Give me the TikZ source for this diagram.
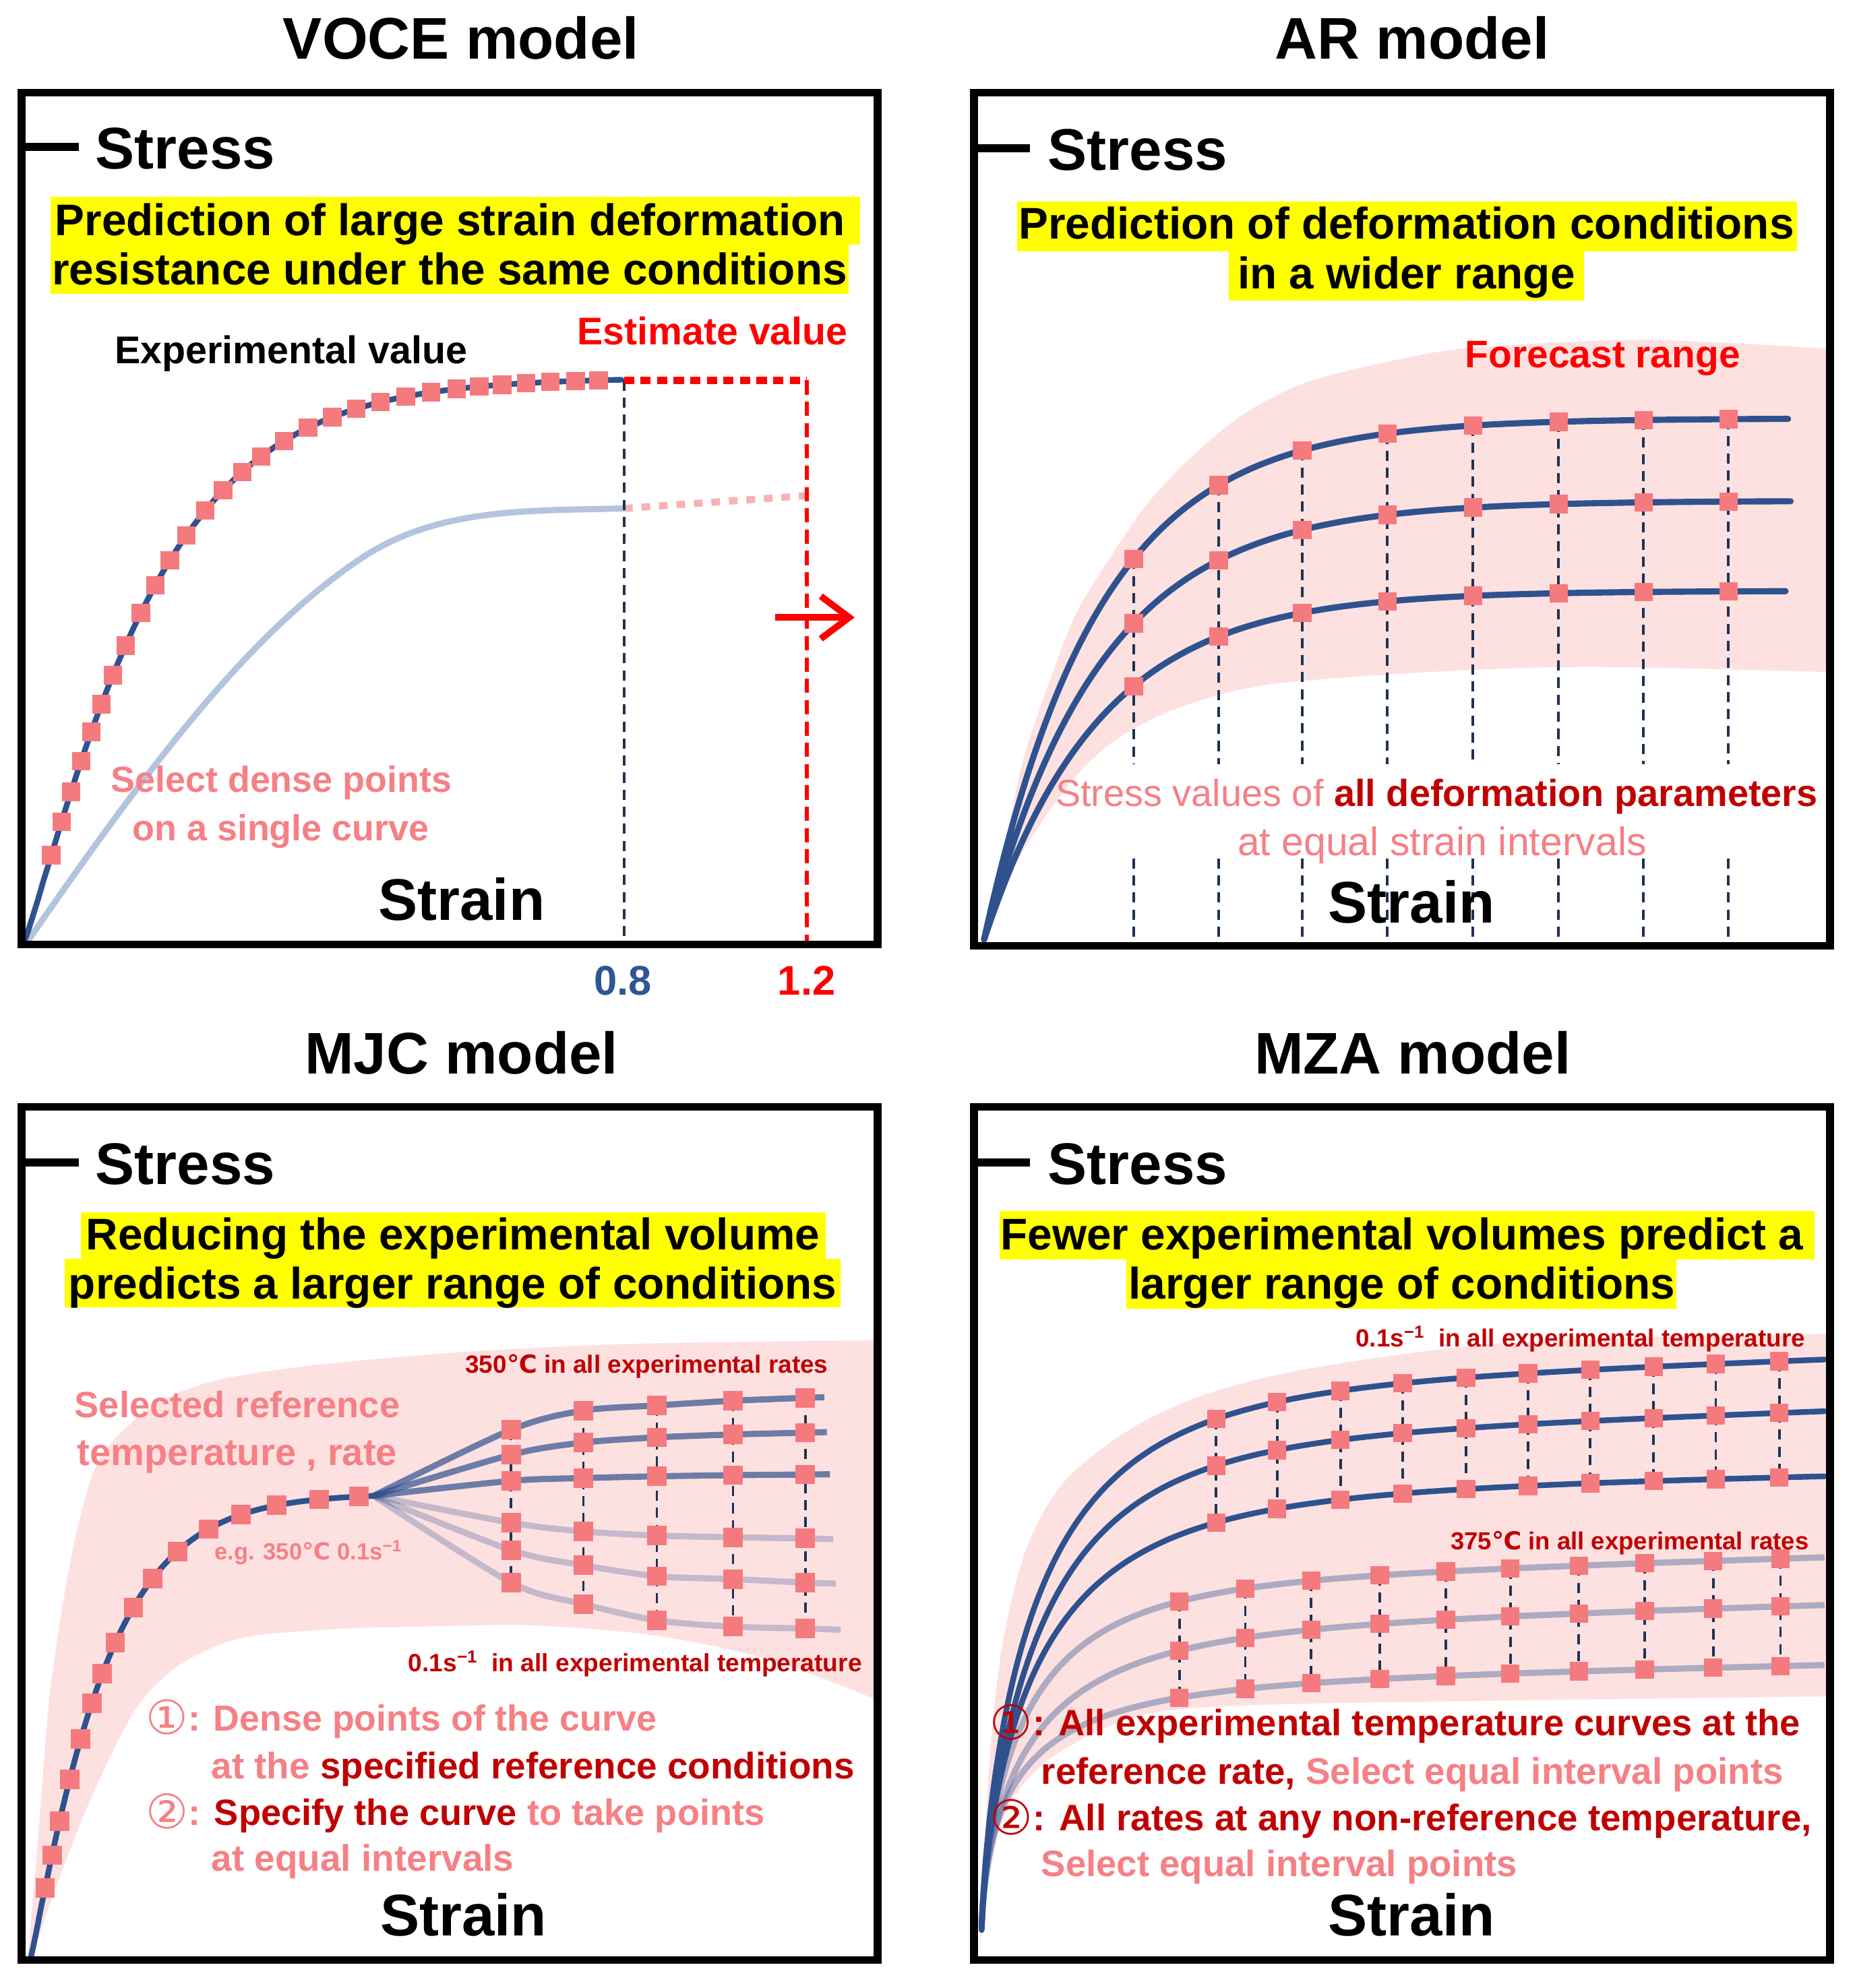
\documentclass[tikz,border=0pt]{standalone}
\usepackage{graphicx}
\usepackage{fontspec}
\setmainfont{Liberation Sans}
\newfontfamily\symf{DejaVu Sans}
\usetikzlibrary{arrows.meta,plotmarks}
\definecolor{cblue}{RGB}{47,82,143}
\definecolor{cnum}{RGB}{47,85,151}
\definecolor{cnavy}{RGB}{30,50,85}
\definecolor{cmark}{RGB}{244,122,126}
\definecolor{cband}{RGB}{253,225,225}
\definecolor{cpink}{RGB}{245,128,133}
\definecolor{cdred}{RGB}{192,0,0}
\definecolor{cred}{RGB}{255,0,0}
\definecolor{cyel}{RGB}{255,255,0}
\definecolor{clblue}{RGB}{180,196,222}
\definecolor{cdotpink}{RGB}{248,178,182}
\newlength{\ux}\setlength{\ux}{0.01881cm}
\newcommand{\fitw}[2]{\resizebox{#1\ux}{!}{#2}}
\newcommand{\degc}{{\symf ℃}}
\newcommand{\srate}{0.1s\textsuperscript{−1}}
\newcommand{\cnum}[1]{\raisebox{-0.1em}{\scalebox{1.3}{\symf\mdseries #1}}}
\pgfdeclareplotmark{sqa}{\pgfpathrectangle{\pgfqpoint{-3.9pt}{-3.9pt}}{\pgfqpoint{7.8pt}{7.8pt}}\pgfusepathqfill}
\pgfdeclareplotmark{sqb}{\pgfpathrectangle{\pgfqpoint{-4.1pt}{-4.1pt}}{\pgfqpoint{8.2pt}{8.2pt}}\pgfusepathqfill}
\tikzset{
 frame/.style={draw=black, line width=3.3pt},
 ytick/.style={draw=black, line width=3.3pt},
 dcurve/.style={draw=cblue, line width=2.4pt, line cap=round},
 fanhi/.style={draw=cblue, draw opacity=0.7, line width=2.6pt},
 fanlo/.style={draw=cblue, draw opacity=0.28, line width=2.6pt},
 lcurve/.style={draw=cblue, draw opacity=0.38, line width=2.6pt},
 vdash/.style={draw=cnavy, line width=1.1pt, dash pattern=on 4.3pt off 2.9pt},
 ttl/.style={font=\fontsize{24.8}{28}\selectfont\bfseries, anchor=base, inner sep=0},
 axl/.style={font=\fontsize{24.8}{28}\selectfont\bfseries, inner sep=0},
 hl/.style={font=\fontsize{18.7}{22}\selectfont\bfseries, anchor=base, inner sep=0},
 ann/.style={font=\fontsize{15}{18}\selectfont, anchor=base west, inner sep=0},
 mkst/.style={only marks, mark=sqa},
 mkbig/.style={only marks, mark=sqb},
}
\begin{document}
\begin{tikzpicture}[x=0.01881cm,y=-0.01881cm,
 declare function={
  voce(\x)=745-447*(1-exp(-pow((\x-18)/104,1.15)));
  mjc(\x)=1545-367*(1-exp(-pow((\x-24)/59.5,1.1)));
  art(\x)=741-411*(1-exp(-(\x-776)/90));
  arm(\x)=741-346*(1-exp(-(\x-776)/92.5));
  arb(\x)=741-275*(1-exp(-(\x-776)/91));
  zt(\x)=1525-430*(1-exp(-pow((\x-774)/48,0.72)))-0.035*(\x-774);
  zm(\x)=1525-389*(1-exp(-pow((\x-774)/49.5,0.75)))-0.035*(\x-774);
  zb(\x)=1525-348*(1-exp(-pow((\x-774)/49,0.7)))-0.02*(\x-774);
  lt(\x)=1525-277*(1-exp(-pow((\x-774)/37.4,0.68)))-0.03*(\x-774);
  lm(\x)=1525-241*(1-exp(-pow((\x-774)/41,0.65)))-0.028*(\x-774);
  lb(\x)=1525-199*(1-exp(-pow((\x-774)/31.9,0.58)))-0.02*(\x-774);
 }]
\useasboundingbox (0,0) rectangle (1464,1568);
\fill[white] (0,0) rectangle (1464,1568);

% ---------------- titles
\node[ttl] (t1) at (363.5,46.5) {VOCE model};
\node[ttl] (t2) at (1113.5,46.5) {AR model};
\node[ttl] (t3) at (364,847) {MJC model};
\node[ttl] (t4) at (1114,847) {MZA model};

% ================= Panel 1: VOCE
\fill[cyel] (40,155) rectangle (678,193);
\fill[cyel] (40,193) rectangle (669,232);
\node[hl] (h1) at (355,185.5) {Prediction of large strain deformation};
\node[hl] (h2) at (354.5,224.5) {resistance under the same conditions};

\draw[draw=clblue, line width=2.6pt] (20,745) .. controls (120,600) and (200,495) .. (290,437) .. controls (350,400) and (420,403) .. (492,401);
\draw[cdotpink, line width=3pt, dash pattern=on 3.7pt off 3.7pt] (492,401) -- (636,391);
\draw[dcurve] plot[domain=18.2:490, samples=120, smooth] (\x,{voce(\x)});
\draw[cmark] plot[mkst, samples at={40.5,48.5,56,64,72,80,89,99,111,122.5,134,147,162,176,191,206,224,243,262,281,300,320,340,360,378,396,415,434,454,472}] (\x,{voce(\x)});
\coordinate (v08t) at (492,300);
\coordinate (v08b) at (492,743);
\coordinate (v12t) at (636,300);
\coordinate (v12b) at (636,743);
\draw[vdash] (v08t) -- (v08b);
\draw[cred, line width=3pt, dash pattern=on 4.3pt off 2.7pt] (v08t) -- (v12t);
\draw[cred, line width=1.7pt, dash pattern=on 6pt off 3pt] (v12t) -- (v12b);
\coordinate (ar1) at (611,487);
\coordinate (ar2) at (674,487);
\draw[cred, line width=2.8pt, -{Straight Barb[length=12pt,width=18pt,line width=2.8pt]}] (ar1) -- (ar2);

\node[ann] (a1) at (90,287) {\fitw{278}{\bfseries Experimental value}};
\node[ann] (a2) at (455,272) {\fitw{213}{\bfseries\color{cred}Estimate value}};
\node[ann] (a3) at (87,625) {\fitw{269}{\bfseries\color{cpink}Select dense points}};
\node[ann] (a4) at (104,663) {\fitw{234}{\bfseries\color{cpink}on a single curve}};
\node[font=\fontsize{17.5}{20}\selectfont\bfseries, text=cnum, anchor=base, inner sep=0] (l08) at (491,785) {0.8};
\node[font=\fontsize{17.5}{20}\selectfont\bfseries, text=cred, anchor=base, inner sep=0] (l12) at (636,785) {1.2};
\node[axl, anchor=base] (e1) at (364,726) {Strain};
\node[axl, anchor=base west] (s1) at (75,133) {Stress};
\draw[ytick] (17,116) -- (62,116);
\draw[frame] (17,73) rectangle (692,745);

% ================= Panel 2: AR
\fill[cband] plot[smooth] coordinates {(772,741) (786,700) (806,602) (830,531) (848,485) (872,445) (905,397) (940,360) (980,327) (1029,302) (1100,284) (1164,274) (1298,268) (1441,275)} -- plot[smooth] coordinates {(1441,530) (1254,526) (1128,530) (1000,540) (930,558) (879,584) (845,616) (811,664) (786,708) (772,741)} -- cycle;
\fill[cyel] (802,159) rectangle (1417,198);
\fill[cyel] (969,198) rectangle (1249,237);
\node[hl] (h3) at (1109,188.5) {Prediction of deformation conditions};
\node[hl] (h4) at (1109,227.5) {in a wider range};

\draw[dcurve, line width=2.6pt] plot[domain=776:1410, samples=120, smooth] (\x,{art(\x)});
\draw[dcurve, line width=2.6pt] plot[domain=776:1412, samples=120, smooth] (\x,{arm(\x)});
\draw[dcurve, line width=2.6pt] plot[domain=776:1408, samples=120, smooth] (\x,{arb(\x)});
\foreach \cx in {894,961,1027,1094,1161.5,1229,1296,1363} {
  \draw[vdash] (\cx,{art(\cx)}) -- (\cx,603);
  \draw[vdash] (\cx,677) -- (\cx,741);
}
\draw[cmark] plot[mkst, samples at={894,961,1027,1094,1161.5,1229,1296,1363}] (\x,{art(\x)});
\draw[cmark] plot[mkst, samples at={894,961,1027,1094,1161.5,1229,1296,1363}] (\x,{arm(\x)});
\draw[cmark] plot[mkst, samples at={894,961,1027,1094,1161.5,1229,1296,1363}] (\x,{arb(\x)});

\node[ann] (b1) at (1155,290) {\fitw{217}{\bfseries\color{cred}Forecast range}};
\node[ann] (b2) at (832,636) {\fitw{601}{\color{cpink}Stress values of \textbf{\color{cdred}all deformation parameters}}};
\node[ann] (b3) at (975.5,675) {\fitw{322.5}{\color{cpink}at equal strain intervals}};
\node[axl, anchor=base] (e2) at (1113,728) {Strain};
\node[axl, anchor=base west] (s2) at (826,134) {Stress};
\draw[ytick] (768,117) -- (812,117);
\draw[frame] (768,73) rectangle (1443,746);

% ================= Panel 3: MJC
\fill[cband] plot[smooth] coordinates {(22,1545) (31,1437) (40,1330) (57,1224) (78,1152) (119,1110) (166,1090) (237,1078) (356,1067) (495,1060) (690,1057)} -- plot[smooth] coordinates {(690,1340) (607,1309) (517,1290) (420,1282) (330,1283) (262,1285) (190,1292) (142,1313) (107,1348) (71,1420) (40,1500) (25,1545)} -- cycle;
\fill[cyel] (64,956) rectangle (651,993);
\fill[cyel] (51,993) rectangle (663,1031);
\node[hl] (h5) at (357.2,985.5) {Reducing the experimental volume};
\node[hl] (h6) at (357,1024.5) {predicts a larger range of conditions};

\coordinate (jn) at (294.6,1179.8);
\draw[fanlo] plot[smooth] coordinates {(jn) (403,1201) (460,1207.9) (518,1211.1) (578,1212.5) (635,1213.4) (657,1214)};
\draw[fanlo] plot[smooth] coordinates {(jn) (403,1222.6) (460,1234.5) (518,1243.2) (578,1245.5) (635,1248.2) (659,1249)};
\draw[fanlo] plot[smooth] coordinates {(jn) (403,1248.2) (460,1265.2) (518,1278) (578,1283) (635,1284.4) (663,1285.5)};
\draw[fanhi] plot[smooth] coordinates {(jn) (403,1127.7) (460,1112.6) (518,1108.5) (578,1104.8) (635,1102.5) (650,1102)};
\draw[fanhi] plot[smooth] coordinates {(jn) (403,1147.4) (460,1137.8) (518,1133.7) (578,1131.4) (635,1130) (652,1129.5)};
\draw[fanhi] plot[smooth] coordinates {(jn) (403,1168) (460,1165.8) (518,1164.4) (578,1163.5) (635,1163) (654.5,1162.8)};
\draw[dcurve] plot[domain=24.2:294.6, samples=100, smooth] (\x,{mjc(\x)});
\draw[vdash] (403,1127.7) -- (403,1248.2);
\draw[vdash] (460,1112.6) -- (460,1265.2);
\draw[vdash] (518,1108.5) -- (518,1278);
\draw[vdash] (578,1104.8) -- (578,1283);
\draw[vdash] (635,1102.5) -- (635,1284.4);
\draw[cmark] plot[mkbig, samples at={35.6,41,47,55,63.6,72.4,80.7,90.9,105.2,120.3,140,164.5,189.9,218.4,251.6,282.9}] (\x,{mjc(\x)});
\draw[cmark] plot[mkbig] coordinates {(403,1127.7) (460,1112.6) (518,1108.5) (578,1104.8) (635,1102.5)
 (403,1147.4) (460,1137.8) (518,1133.7) (578,1131.4) (635,1130)
 (403,1168) (460,1165.8) (518,1164.4) (578,1163.5) (635,1163)
 (403,1201) (460,1207.9) (518,1211.1) (578,1212.5) (635,1213.4)
 (403,1222.6) (460,1234.5) (518,1243.2) (578,1245.5) (635,1248.2)
 (403,1248.2) (460,1265.2) (518,1278) (578,1283) (635,1284.4)};

\node[ann] (c1) at (366.6,1083) {\fitw{286}{\bfseries\color{cdred}350\degc{} in all experimental rates}};
\node[ann] (c2) at (58.5,1118) {\fitw{256.5}{\bfseries\color{cpink}Selected reference}};
\node[ann] (c3) at (60.7,1156) {\fitw{252}{\bfseries\color{cpink}temperature , rate}};
\node[ann] (c4) at (168.7,1230) {\fitw{148}{\bfseries\color{cpink}e.g. 350\degc{} \srate}};
\node[ann] (c5) at (321.6,1318.5) {\fitw{357.7}{\bfseries\color{cdred}\srate\ \ in all experimental temperature}};
\node[ann] (c6) at (114.7,1365) {\fitw{402.6}{\bfseries\color{cpink}\cnum{①}: Dense points of the curve}};
\node[ann] (c7) at (166.4,1403) {\fitw{507}{\bfseries\color{cpink}at the \textcolor{cdred}{specified reference conditions}}};
\node[ann] (c8) at (114.7,1439.5) {\fitw{488}{\bfseries\color{cpink}\cnum{②}: \textcolor{cdred}{Specify the curve} to take points}};
\node[ann] (c9) at (166.4,1476) {\fitw{238.5}{\bfseries\color{cpink}at equal intervals}};
\node[axl, anchor=base] (e3) at (365.5,1527) {Strain};
\node[axl, anchor=base west] (s3) at (75,934) {Stress};
\draw[ytick] (17,917) -- (62,917);
\draw[frame] (17,873) rectangle (692,1546);

% ================= Panel 4: MZA
\fill[cband] plot[smooth] coordinates {(772,1542) (776,1460) (781,1380) (790,1300) (808,1225) (838,1170) (890,1128) (950,1100) (1029,1080) (1164,1061) (1298,1054.5) (1441,1052)} -- plot[smooth] coordinates {(1441,1338) (1209,1341) (984,1345) (895,1354) (828,1387) (795,1425) (780,1480) (772,1542)} -- cycle;
\fill[cyel] (788,955) rectangle (1431,993.5);
\fill[cyel] (888,993.5) rectangle (1322,1032);
\node[hl] (h7) at (1105.5,985.5) {Fewer experimental volumes predict a};
\node[hl] (h8) at (1105.5,1024.5) {larger range of conditions};

\draw[lcurve] plot[variable=\u, domain=0.01:1, samples=150, smooth] ({774+666*\u*\u},{lt(774+666*\u*\u)});
\draw[lcurve] plot[variable=\u, domain=0.01:1, samples=150, smooth] ({774+666*\u*\u},{lm(774+666*\u*\u)});
\draw[lcurve] plot[variable=\u, domain=0.01:1, samples=150, smooth] ({774+666*\u*\u},{lb(774+666*\u*\u)});
\draw[dcurve] plot[variable=\u, domain=0.01:1, samples=150, smooth] ({774+666*\u*\u},{zt(774+666*\u*\u)});
\draw[dcurve] plot[variable=\u, domain=0.01:1, samples=150, smooth] ({774+666*\u*\u},{zm(774+666*\u*\u)});
\draw[dcurve] plot[variable=\u, domain=0.01:1, samples=150, smooth] ({774+666*\u*\u},{zb(774+666*\u*\u)});
\foreach \cx in {959,1007,1057,1106,1156,1205,1254,1304,1353,1403} {
  \draw[vdash] (\cx,{zt(\cx)}) -- (\cx,{zb(\cx)});
}
\foreach \cx in {930,982,1034,1088,1140,1191,1245,1297,1351,1404} {
  \draw[vdash] (\cx,{lt(\cx)}) -- (\cx,{lb(\cx)});
}
\draw[cmark] plot[mkst, samples at={959,1007,1057,1106,1156,1205,1254,1304,1353,1403}] (\x,{zt(\x)});
\draw[cmark] plot[mkst, samples at={959,1007,1057,1106,1156,1205,1254,1304,1353,1403}] (\x,{zm(\x)});
\draw[cmark] plot[mkst, samples at={959,1007,1057,1106,1156,1205,1254,1304,1353,1403}] (\x,{zb(\x)});
\draw[cmark] plot[mkst, samples at={930,982,1034,1088,1140,1191,1245,1297,1351,1404}] (\x,{lt(\x)});
\draw[cmark] plot[mkst, samples at={930,982,1034,1088,1140,1191,1245,1297,1351,1404}] (\x,{lm(\x)});
\draw[cmark] plot[mkst, samples at={930,982,1034,1088,1140,1191,1245,1297,1351,1404}] (\x,{lb(\x)});

\node[ann] (d1) at (1068.7,1062) {\fitw{354.3}{\bfseries\color{cdred}\srate\ \ in all experimental temperature}};
\node[ann] (d2) at (1143.6,1222) {\fitw{282.4}{\bfseries\color{cdred}375\degc{} in all experimental rates}};
\node[ann] (d3) at (780.4,1369) {\fitw{639}{\bfseries\color{cdred}\cnum{①}: All experimental temperature curves at the}};
\node[ann] (d4) at (820.7,1407) {\fitw{585.3}{\bfseries\color{cdred}reference rate, \textcolor{cpink}{Select equal interval points}}};
\node[ann] (d5) at (780.4,1444) {\fitw{648}{\bfseries\color{cdred}\cnum{②}: All rates at any non-reference temperature,}};
\node[ann] (d6) at (820.7,1480) {\fitw{375.3}{\bfseries\color{cpink}Select equal interval points}};
\node[axl, anchor=base] (e4) at (1113,1527) {Strain};
\node[axl, anchor=base west] (s4) at (826,934) {Stress};
\draw[ytick] (768,917) -- (812,917);
\draw[frame] (768,873) rectangle (1443,1546);
\end{tikzpicture}
\end{document}
